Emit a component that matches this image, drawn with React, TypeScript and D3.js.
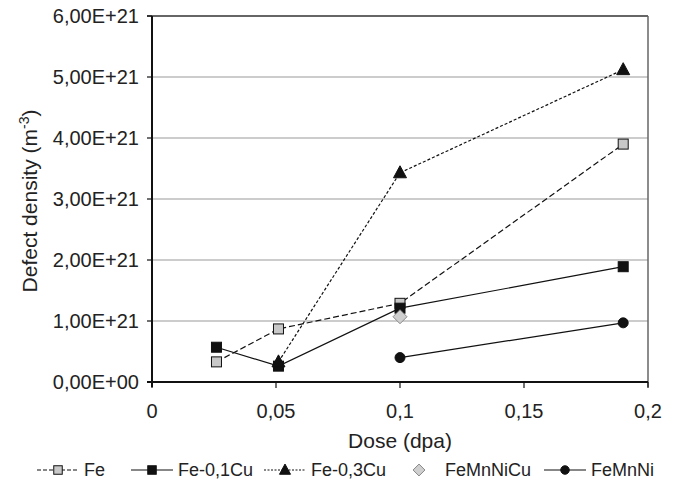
import React from "react";
import * as d3 from "d3";

const seriesNames = ["Fe", "Fe-0,1Cu", "Fe-0,3Cu", "FeMnNiCu", "FeMnNi"];
const feDose = [0.026, 0.051, 0.1, 0.19];
const feDensity = [0.33e21, 0.87e21, 1.29e21, 3.9e21];
const fe01Dose = [0.026, 0.051, 0.1, 0.19];
const fe01Density = [0.57e21, 0.26e21, 1.21e21, 1.89e21];
const fe03Dose = [0.051, 0.1, 0.19];
const fe03Density = [0.33e21, 3.43e21, 5.12e21];
const femnnicuDose = [0.1];
const femnnicuDensity = [1.07e21];
const femnniDose = [0.1, 0.19];
const femnniDensity = [0.4e21, 0.97e21];
const xTicks = [0, 0.05, 0.1, 0.15, 0.2];
const xTickLabels = ["0", "0,05", "0,1", "0,15", "0,2"];
const yTicks = [0, 1e21, 2e21, 3e21, 4e21, 5e21, 6e21];
const yTickLabels = ["0,00E+00", "1,00E+21", "2,00E+21", "3,00E+21", "4,00E+21", "5,00E+21", "6,00E+21"];

type Style = { dash: string | null; legendDash: string | null; line: boolean; marker: string; fill: string; stroke: string };
const styles: Style[] = [
  { dash: "6,3", legendDash: "4,2", line: true, marker: "square", fill: "#c8c8c8", stroke: "#111" },
  { dash: null, legendDash: null, line: true, marker: "square", fill: "#111", stroke: "#111" },
  { dash: "3,2", legendDash: "2,1.5", line: true, marker: "triangle", fill: "#111", stroke: "#111" },
  { dash: null, legendDash: null, line: false, marker: "diamond", fill: "#cfcfcf", stroke: "#888" },
  { dash: null, legendDash: null, line: true, marker: "circle", fill: "#111", stroke: "#111" },
];

const FONT = "'Liberation Sans', Arial, sans-serif";

function Marker({ kind, x, y, fill, stroke, s = 1 }: { kind: string; x: number; y: number; fill: string; stroke: string; s?: number }) {
  if (kind === "square") return <rect x={x - 5 * s} y={y - 5 * s} width={10 * s} height={10 * s} fill={fill} stroke={stroke} strokeWidth={1} />;
  if (kind === "triangle") return <path d={`M${x},${y - 7 * s} L${x + 6.5 * s},${y + 5 * s} L${x - 6.5 * s},${y + 5 * s} Z`} fill={fill} stroke={stroke} strokeWidth={1} />;
  if (kind === "diamond") return <path d={`M${x},${y - 7 * s} L${x + 7 * s},${y} L${x},${y + 7 * s} L${x - 7 * s},${y} Z`} fill={fill} stroke={stroke} strokeWidth={1} />;
  return <circle cx={x} cy={y} r={5 * s} fill={fill} stroke={stroke} strokeWidth={1} />;
}

export default function App() {
  const W = 681, H = 490;
  const left = 152, right = 648, top = 16, bottom = 382;
  const x = d3.scaleLinear().domain([0, 0.2]).range([left, right]);
  const y = d3.scaleLinear().domain([0, 6e21]).range([bottom, top]);
  const data = [
    feDose.map((d, i) => [d, feDensity[i]]),
    fe01Dose.map((d, i) => [d, fe01Density[i]]),
    fe03Dose.map((d, i) => [d, fe03Density[i]]),
    femnnicuDose.map((d, i) => [d, femnnicuDensity[i]]),
    femnniDose.map((d, i) => [d, femnniDensity[i]]),
  ];
  const line = d3.line<number[]>().x((d) => x(d[0])).y((d) => y(d[1]));
  const legendX = [37, 131, 264, 398, 544];
  const sample = 42;

  return (
    <div style={{ position: "absolute", left: 0, top: 0 }}>
      <svg width={W} height={H} style={{ display: "block", fontFamily: FONT }}>
        <rect width={W} height={H} fill="#fff" />
        {yTicks.slice(1, -1).map((t) => (
          <line key={t} x1={left} x2={right} y1={y(t)} y2={y(t)} stroke="#999" strokeWidth={1.2} />
        ))}
        <line x1={left - 5} x2={right} y1={top} y2={top} stroke="#333" strokeWidth={1.5} />
        <line x1={right} x2={right} y1={top} y2={bottom + 5} stroke="#666" strokeWidth={1.5} />
        <line x1={left} x2={left} y1={top} y2={bottom + 5} stroke="#111" strokeWidth={2} />
        <line x1={left - 5} x2={right} y1={bottom} y2={bottom} stroke="#111" strokeWidth={2} />
        {yTicks.map((t, i) => (
          <g key={t}>
            <line x1={left - 5} x2={left} y1={y(t)} y2={y(t)} stroke="#111" strokeWidth={1.2} />
            <text x={left - 13} y={y(t)} dy="0.35em" textAnchor="end" fontSize={20} fill="#222">{yTickLabels[i]}</text>
          </g>
        ))}
        {xTicks.map((t, i) => (
          <g key={t}>
            <line x1={x(t)} x2={x(t)} y1={bottom} y2={bottom + 6} stroke="#111" strokeWidth={1.2} />
            <text x={x(t)} y={418} textAnchor="middle" fontSize={20} fill="#222">{xTickLabels[i]}</text>
          </g>
        ))}
        <text x={(left + right) / 2} y={448} textAnchor="middle" fontSize={21} fill="#222">Dose (dpa)</text>
        <text transform={`translate(37,${(top + bottom) / 2 + 2}) rotate(-90)`} textAnchor="middle" fontSize={21} fill="#222">
          Defect density (m<tspan dy={-8} fontSize={14}>-3</tspan><tspan dy={8}>)</tspan>
        </text>
        {data.map((pts, si) => (
          <g key={si}>
            {styles[si].line && pts.length > 1 && (
              <path d={line(pts) || ""} fill="none" stroke="#111" strokeWidth={1.2} strokeDasharray={styles[si].dash || undefined} />
            )}
            {pts.map((p, pi) => (
              <Marker key={pi} kind={styles[si].marker} x={x(p[0])} y={y(p[1])} fill={styles[si].fill} stroke={styles[si].stroke} />
            ))}
          </g>
        ))}
        {seriesNames.map((name, i) => {
          const lx = legendX[i];
          const ly = 470;
          const s = styles[i];
          return (
            <g key={name}>
              {s.line && <line x1={lx} x2={lx + sample} y1={ly} y2={ly} stroke="#111" strokeWidth={1.2} strokeDasharray={s.legendDash || undefined} />}
              <Marker kind={s.marker} x={lx + sample / 2} y={ly} fill={s.fill} stroke={s.stroke} s={0.85} />
              <text x={lx + sample + 5} y={ly} dy="0.35em" fontSize={18} fill="#222">{name}</text>
            </g>
          );
        })}
      </svg>
    </div>
  );
}
